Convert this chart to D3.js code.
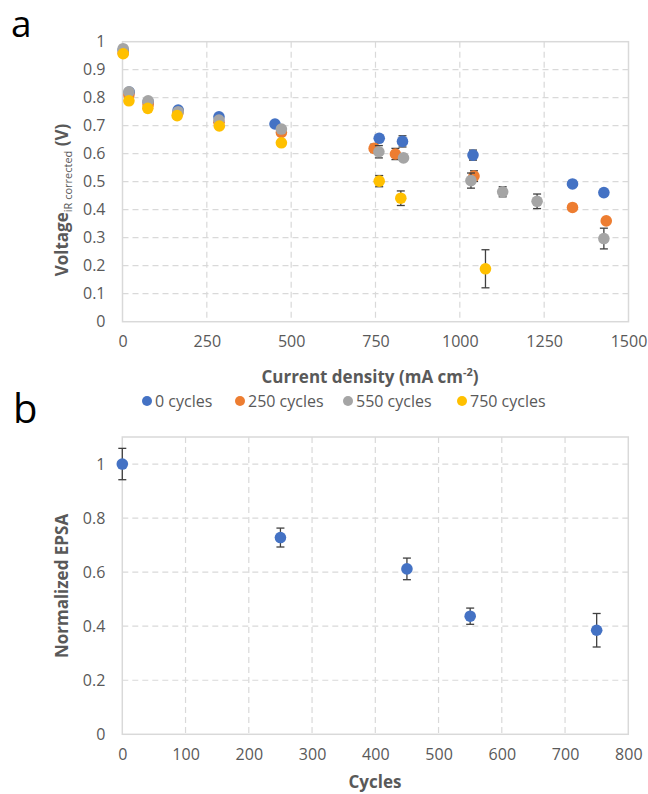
<!DOCTYPE html>
<html>
<head>
<meta charset="utf-8">
<script src="https://cdn.jsdelivr.net/npm/d3@7"></script>
<style>
  body { margin: 0; background: #fff; }
  text { font-family: "Open Sans", sans-serif; }
</style>
</head>
<body>
<svg id="chart" width="648" height="794"></svg>
<script>
// Data panel a: current density vs voltage
const seriesNames = ["0 cycles", "250 cycles", "550 cycles", "750 cycles"];
const seriesColors = ["#4472C4", "#ED7D31", "#A5A5A5", "#FFC000"];

const x0 = [2, 20, 76, 165, 286, 452, 761, 830, 1039, 1334, 1427];
const y0 = [0.97, 0.82, 0.785, 0.756, 0.732, 0.706, 0.655, 0.644, 0.595, 0.492, 0.461];
const e0 = [0.005, 0.005, 0.005, 0.005, 0.005, 0.005, 0.01, 0.02, 0.018, 0.005, 0.005];

const x250 = [2, 19, 76, 164, 286, 471, 746, 809, 1042, 1334, 1434];
const y250 = [0.96, 0.81, 0.775, 0.745, 0.712, 0.676, 0.619, 0.599, 0.52, 0.408, 0.36];
const e250 = [0.005, 0.005, 0.005, 0.005, 0.005, 0.005, 0.015, 0.02, 0.019, 0.005, 0.005];

const x550 = [2, 19, 76, 165, 286, 471, 760, 833, 1033, 1127, 1229, 1427];
const y550 = [0.975, 0.821, 0.789, 0.75, 0.72, 0.688, 0.607, 0.585, 0.504, 0.464, 0.43, 0.297];
const e550 = [0.005, 0.005, 0.005, 0.005, 0.005, 0.005, 0.022, 0.005, 0.027, 0.018, 0.026, 0.037];

const x750 = [2, 19, 75, 162, 287, 471, 761, 825, 1076];
const y750 = [0.957, 0.789, 0.762, 0.736, 0.699, 0.639, 0.502, 0.441, 0.189];
const e750 = [0.005, 0.005, 0.005, 0.005, 0.005, 0.005, 0.02, 0.026, 0.068];

// Data panel b: cycles vs normalized EPSA
const cycles = [0, 250, 450, 550, 750];
const epsa = [1.0, 0.728, 0.612, 0.437, 0.385];
const epsaErr = [0.058, 0.035, 0.04, 0.03, 0.062];

const xTicksA = [0, 250, 500, 750, 1000, 1250, 1500];
const yTicksA = [0, 0.1, 0.2, 0.3, 0.4, 0.5, 0.6, 0.7, 0.8, 0.9, 1];
const xTicksB = [0, 100, 200, 300, 400, 500, 600, 700, 800];
const yTicksB = [0, 0.2, 0.4, 0.6, 0.8, 1];

const svg = d3.select("#chart");
const textColor = "#595959";
const gridColor = "#D9D9D9";
const errColor = "#404040";

function toPoints(xs, ys, es) {
    return xs.map((x, i) => ({ x: x, y: ys[i], e: es[i] }));
}

const seriesA = [
    toPoints(x0, y0, e0),
    toPoints(x250, y250, e250),
    toPoints(x550, y550, e550),
    toPoints(x750, y750, e750)
];

// Dashed grid + frame + tick labels
function drawFrame(g, x, y, xTicks, yTicks, yFmt) {
    const [x1, x2] = x.range();
    const [yb, yt] = y.range();

    g.append("g")
        .selectAll("line")
        .data(xTicks.filter(d => d > x.domain()[0] && d < x.domain()[1]))
        .enter()
        .append("line")
        .attr("x1", d => x(d)).attr("x2", d => x(d))
        .attr("y1", yt).attr("y2", yb)
        .attr("stroke", gridColor).attr("stroke-width", 1.2)
        .attr("stroke-dasharray", "6,4");

    g.append("g")
        .selectAll("line")
        .data(yTicks.filter(d => d > y.domain()[0] && d < y.domain()[1]))
        .enter()
        .append("line")
        .attr("x1", x1).attr("x2", x2)
        .attr("y1", d => y(d)).attr("y2", d => y(d))
        .attr("stroke", gridColor).attr("stroke-width", 1.2)
        .attr("stroke-dasharray", "6,4");

    g.append("rect")
        .attr("x", x1).attr("y", yt)
        .attr("width", x2 - x1).attr("height", yb - yt)
        .attr("fill", "none")
        .attr("stroke", gridColor).attr("stroke-width", 1.5);

    const xAxis = g.append("g")
        .attr("transform", `translate(0,${yb})`)
        .call(d3.axisBottom(x).tickValues(xTicks).tickSize(0).tickPadding(14).tickFormat(d3.format("d")));
    xAxis.select(".domain").remove();
    xAxis.selectAll("text").attr("fill", textColor).attr("font-size", "16px");

    const yAxis = g.append("g")
        .attr("transform", `translate(${x1},0)`)
        .call(d3.axisLeft(y).tickValues(yTicks).tickSize(0).tickPadding(17).tickFormat(yFmt));
    yAxis.select(".domain").remove();
    yAxis.selectAll("text").attr("fill", textColor).attr("font-size", "16px");
}

function drawPoints(g, data, x, y, color) {
    const cap = 4;
    const eb = g.append("g");
    eb.selectAll("line.v")
        .data(data).enter().append("line")
        .attr("x1", d => x(d.x)).attr("x2", d => x(d.x))
        .attr("y1", d => y(d.y + d.e)).attr("y2", d => y(d.y - d.e))
        .attr("stroke", errColor).attr("stroke-width", 1.3);
    eb.selectAll("line.t")
        .data(data).enter().append("line")
        .attr("x1", d => x(d.x) - cap).attr("x2", d => x(d.x) + cap)
        .attr("y1", d => y(d.y + d.e)).attr("y2", d => y(d.y + d.e))
        .attr("stroke", errColor).attr("stroke-width", 1.3);
    eb.selectAll("line.b")
        .data(data).enter().append("line")
        .attr("x1", d => x(d.x) - cap).attr("x2", d => x(d.x) + cap)
        .attr("y1", d => y(d.y - d.e)).attr("y2", d => y(d.y - d.e))
        .attr("stroke", errColor).attr("stroke-width", 1.3);

    g.append("g")
        .selectAll("circle")
        .data(data).enter().append("circle")
        .attr("cx", d => x(d.x))
        .attr("cy", d => y(d.y))
        .attr("r", 5.8)
        .attr("fill", color);
}

// ---------- Panel a ----------
const xA = d3.scaleLinear().domain([0, 1500]).range([122.5, 628.5]);
const yA = d3.scaleLinear().domain([0, 1]).range([321.7, 41.7]);
const gA = svg.append("g");
drawFrame(gA, xA, yA, xTicksA, yTicksA, d3.format("~g"));
seriesA.forEach((s, i) => drawPoints(gA, s, xA, yA, seriesColors[i]));

svg.append("text")
    .attr("x", 11).attr("y", 37)
    .attr("font-family", "Liberation Sans, sans-serif")
    .attr("font-size", "37px").attr("fill", "#000")
    .text("a");

const yLabA = svg.append("text")
    .attr("transform", "translate(68,200) rotate(-90)")
    .attr("text-anchor", "middle")
    .attr("fill", textColor);
yLabA.append("tspan").attr("font-size", "17px").attr("font-weight", "bold").text("Voltage");
yLabA.append("tspan").attr("font-size", "11px").attr("dy", 4).text("iR corrected");
yLabA.append("tspan").attr("font-size", "17px").attr("font-weight", "bold").attr("dy", -4).text(" (V)");

const xLabA = svg.append("text")
    .attr("x", 370).attr("y", 383)
    .attr("text-anchor", "middle")
    .attr("fill", textColor)
    .attr("font-size", "17px").attr("font-weight", "bold");
xLabA.append("tspan").text("Current density (mA cm");
xLabA.append("tspan").attr("font-size", "11px").attr("dy", -7).text("-2");
xLabA.append("tspan").attr("dy", 7).text(")");

// Legend
const legendX = [147, 240, 348, 462];
const legend = svg.append("g").selectAll("g")
    .data(seriesNames).enter().append("g")
    .attr("transform", (d, i) => `translate(${legendX[i]},401)`);
legend.append("circle").attr("r", 5).attr("fill", (d, i) => seriesColors[i]);
legend.append("text")
    .attr("x", 8).attr("y", 6)
    .attr("font-size", "16px").attr("fill", textColor)
    .text(d => d);

// ---------- Panel b ----------
const xB = d3.scaleLinear().domain([0, 800]).range([122.3, 628.3]);
const yB = d3.scaleLinear().domain([0, 1.1]).range([734.3, 437]);
const gB = svg.append("g");
drawFrame(gB, xB, yB, xTicksB, yTicksB, d3.format("~g"));
drawPoints(gB, toPoints(cycles, epsa, epsaErr), xB, yB, seriesColors[0]);

svg.append("text")
    .attr("x", 13).attr("y", 423)
    .attr("font-family", "Liberation Sans, sans-serif")
    .attr("font-size", "40px").attr("fill", "#000")
    .text("b");

svg.append("text")
    .attr("transform", "translate(68,586) rotate(-90)")
    .attr("text-anchor", "middle")
    .attr("fill", textColor)
    .attr("font-size", "17px").attr("font-weight", "bold")
    .text("Normalized EPSA");

svg.append("text")
    .attr("x", 375).attr("y", 788)
    .attr("text-anchor", "middle")
    .attr("fill", textColor)
    .attr("font-size", "17px").attr("font-weight", "bold")
    .text("Cycles");
</script>
</body>
</html>
